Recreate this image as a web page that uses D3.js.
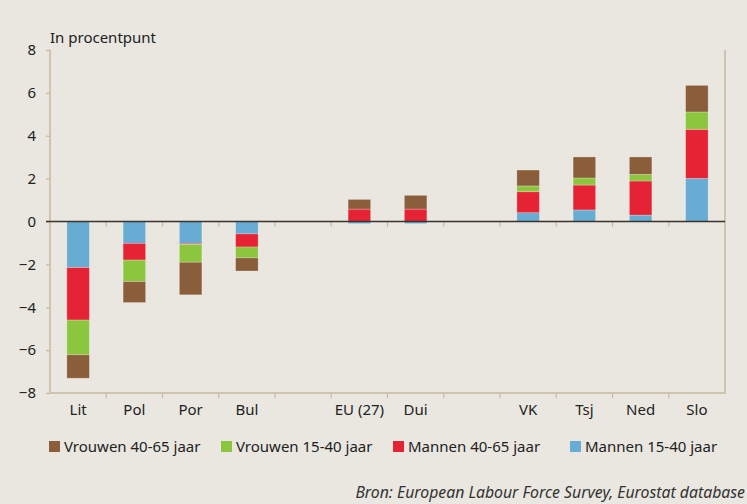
<!DOCTYPE html>
<html>
<head>
<meta charset="utf-8">
<script src="https://cdn.jsdelivr.net/npm/d3@7"></script>
<style>
  body { margin: 0; background: #e9e7e0; }
  svg { display: block; font-family: "Noto Sans", "Open Sans", sans-serif; }
</style>
</head>
<body>
<div id="chart"></div>
<script>
// slots on the x axis; empty strings are gaps in the chart
const categories = ["Lit", "Pol", "Por", "Bul", "", "EU (27)", "Dui", "", "VK", "Tsj", "Ned", "Slo"];

// values in procentpunt, per slot (0 for the gaps)
const mannen1540 = [-2.15, -1.02, -1.02, -0.58, 0, -0.10, -0.10, 0, 0.41, 0.54, 0.30, 2.01];
const mannen4065 = [-2.45, -0.78, -0.05, -0.61, 0, 0.58, 0.58, 0, 0.98, 1.16, 1.59, 2.29];
const vrouwen1540 = [-1.62, -1.00, -0.83, -0.51, 0, 0.00, 0.00, 0, 0.27, 0.33, 0.31, 0.81];
const vrouwen4065 = [-1.09, -0.98, -1.52, -0.61, 0, 0.45, 0.64, 0, 0.74, 0.98, 0.81, 1.24];

const yTicks = [-8, -6, -4, -2, 0, 2, 4, 6, 8];

const seriesInfo = [
  { id: "m1540", label: "Mannen 15-40 jaar", color: "#67acd2", values: mannen1540 },
  { id: "m4065", label: "Mannen 40-65 jaar", color: "#e62334", values: mannen4065 },
  { id: "v1540", label: "Vrouwen 15-40 jaar", color: "#8cc63f", values: vrouwen1540 },
  { id: "v4065", label: "Vrouwen 40-65 jaar", color: "#8a5d3b", values: vrouwen4065 }
];
const legendOrder = ["v4065", "v1540", "m4065", "m1540"];

const width = 747;
const height = 504;
const plot = { left: 50, right: 725, top: 50, bottom: 393 };
const axisColor = "#c7b99e";

const svg = d3.select("#chart")
  .append("svg")
  .attr("width", width)
  .attr("height", height);

svg.append("rect")
  .attr("width", width)
  .attr("height", height)
  .attr("fill", "#e9e7e0");

const xScale = d3.scaleBand()
  .domain(d3.range(categories.length))
  .range([plot.left, plot.right])
  .paddingInner(0.6)
  .paddingOuter(0.3);

const yScale = d3.scaleLinear()
  .domain([-8, 8])
  .range([plot.bottom, plot.top]);

const table = categories.map((c, i) => {
  const row = { idx: i, cat: c };
  seriesInfo.forEach(s => { row[s.id] = s.values[i]; });
  return row;
});

const stacked = d3.stack()
  .keys(seriesInfo.map(s => s.id))
  .offset(d3.stackOffsetDiverging)(table);

// title
svg.append("text")
  .attr("x", 50)
  .attr("y", 43)
  .attr("font-size", "15px")
  .attr("fill", "#222")
  .text("In procentpunt");

// frame: left, right, bottom
const step = (plot.right - plot.left) / categories.length;
svg.append("path")
  .attr("d", `M${plot.left},${plot.top}V${plot.bottom}H${plot.right}V${plot.top}`)
  .attr("fill", "none")
  .attr("stroke", axisColor)
  .attr("stroke-width", 1.5);

// y axis ticks and labels
const leftAxis = d3.axisLeft(yScale)
  .tickValues(yTicks)
  .tickSize(4)
  .tickPadding(10)
  .tickFormat(d3.format("d"));
const gy = svg.append("g")
  .attr("transform", `translate(${plot.left},0)`)
  .call(leftAxis);
gy.select(".domain").remove();
gy.selectAll("line").attr("stroke", axisColor).attr("stroke-width", 1.2);
gy.selectAll("text")
  .attr("font-size", "15px")
  .attr("fill", "#222")
  .attr("font-family", "'Noto Sans', sans-serif");

// bars
svg.append("g")
  .selectAll("g")
  .data(stacked)
  .join("g")
  .attr("fill", d => seriesInfo.find(s => s.id === d.key).color)
  .selectAll("rect")
  .data(d => d.filter(p => p[1] !== p[0]))
  .join("rect")
  .attr("x", d => xScale(d.data.idx))
  .attr("width", xScale.bandwidth())
  .attr("y", d => yScale(Math.max(d[0], d[1])))
  .attr("height", d => Math.abs(yScale(d[0]) - yScale(d[1])))
  .attr("stroke", "rgba(255,255,255,0.3)")
  .attr("stroke-width", 0.8);

// tick marks between slots on the zero line and at the bottom
const boundaries = d3.range(1, categories.length).map(i => plot.left + i * step);
[yScale(0), plot.bottom].forEach(yy => {
  svg.append("g")
    .selectAll("line")
    .data(boundaries)
    .join("line")
    .attr("x1", d => d)
    .attr("x2", d => d)
    .attr("y1", yy)
    .attr("y2", yy + 5)
    .attr("stroke", axisColor)
    .attr("stroke-width", 1.2);
});

// zero line
svg.append("line")
  .attr("x1", plot.left - 4)
  .attr("x2", plot.right)
  .attr("y1", yScale(0))
  .attr("y2", yScale(0))
  .attr("stroke", "#3b332c")
  .attr("stroke-width", 1.5);

// x labels
svg.append("g")
  .selectAll("text")
  .data(table.filter(d => d.cat !== ""))
  .join("text")
  .attr("x", d => xScale(d.idx) + xScale.bandwidth() / 2)
  .attr("y", 415)
  .attr("text-anchor", "middle")
  .attr("font-size", "15px")
  .attr("fill", "#222")
  .text(d => d.cat);

// legend
const legendX = [49, 221, 393, 570];
legendOrder.forEach((id, i) => {
  const s = seriesInfo.find(f => f.id === id);
  const row = svg.append("g")
    .attr("transform", `translate(${legendX[i]}, 441)`);
  row.append("rect")
    .attr("width", 11)
    .attr("height", 11)
    .attr("fill", s.color);
  row.append("text")
    .attr("x", 15)
    .attr("y", 11)
    .attr("font-size", "15px")
    .attr("fill", "#222")
    .text(s.label);
});

// source
svg.append("text")
  .attr("x", 745)
  .attr("y", 498)
  .attr("text-anchor", "end")
  .attr("font-size", "15.8px")
  .attr("font-style", "italic")
  .attr("fill", "#333")
  .text("Bron: European Labour Force Survey, Eurostat database");
</script>
</body>
</html>
